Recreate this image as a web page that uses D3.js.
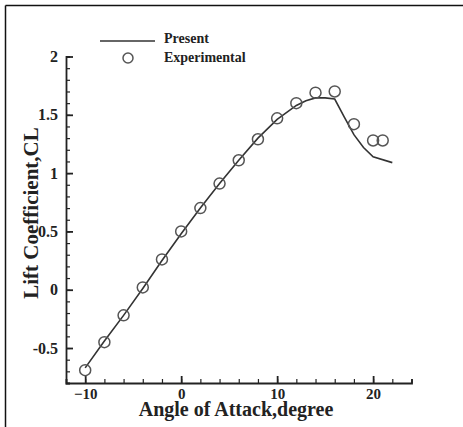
<!DOCTYPE html>
<html>
<head>
<meta charset="utf-8">
<script src="https://cdn.jsdelivr.net/npm/d3@7"></script>
<style>
  html, body { margin: 0; padding: 0; background: #fff; }
  svg { display: block; }
  text { font-family: "Liberation Serif", "DejaVu Serif", serif; font-weight: bold; fill: #222; }
</style>
</head>
<body>
<svg id="chart" width="463" height="427"></svg>
<script>
// Computed lift coefficient (solid line)
const presentAlpha = [-10, -8, -6, -4, -2, 0, 2, 4, 6, 8, 10, 12, 13, 14, 15, 16, 17, 18, 19, 20, 22];
const presentCL    = [-0.67, -0.44, -0.22, 0.01, 0.25, 0.48, 0.70, 0.91, 1.11, 1.30, 1.46, 1.58, 1.62, 1.645, 1.645, 1.635, 1.48, 1.33, 1.22, 1.14, 1.09];

// Wind-tunnel measurements (open circles)
const expAlpha = [-10, -8, -6, -4, -2, 0, 2, 4, 6, 8, 10, 12, 14, 16, 18, 20, 21];
const expCL    = [-0.69, -0.45, -0.22, 0.02, 0.26, 0.50, 0.70, 0.91, 1.11, 1.29, 1.47, 1.60, 1.69, 1.70, 1.42, 1.28, 1.28];

const xMajorTicks = [-10, 0, 10, 20];
const yMajorTicks = [-0.5, 0, 0.5, 1, 1.5, 2];
const legendLabels = ["Present", "Experimental"];

const svg = d3.select("#chart");

// outer frame (top and left edges)
svg.append("line").attr("x1", 5.5).attr("x2", 463).attr("y1", 5.5).attr("y2", 5.5)
  .attr("stroke", "#111").attr("stroke-width", 1.5);
svg.append("line").attr("x1", 5.5).attr("x2", 5.5).attr("y1", 5.5).attr("y2", 427)
  .attr("stroke", "#111").attr("stroke-width", 1.5);

const x = d3.scaleLinear().domain([-12, 24]).range([66, 411.5]);
const y = d3.scaleLinear().domain([-0.8, 2]).range([383, 56.5]);

// x axis with inward ticks
const xAxisG = svg.append("g").attr("transform", `translate(0,${y(-0.8)})`);
xAxisG.call(d3.axisBottom(x).tickValues(d3.range(-12, 24.01, 2)).tickSize(-4).tickFormat(""));
xAxisG.selectAll(".tick line").attr("stroke", "#222").attr("stroke-width", 1.2);
xAxisG.select(".domain").attr("stroke", "#222").attr("stroke-width", 1.8);
const xMajor = svg.append("g").attr("transform", `translate(0,${y(-0.8)})`)
  .call(d3.axisBottom(x).tickValues(xMajorTicks).tickSize(-7).tickPadding(5).tickFormat(d3.format("d")));
xMajor.select(".domain").remove();
xMajor.selectAll(".tick line").attr("stroke", "#222").attr("stroke-width", 1.8);
xMajor.selectAll(".tick text").attr("font-size", 15).attr("fill", "#222")
  .attr("font-family", "Liberation Serif").attr("font-weight", "bold");

// y axis with inward ticks
const yAxisG = svg.append("g").attr("transform", `translate(${x(-12)},0)`);
yAxisG.call(d3.axisLeft(y).tickValues(d3.range(-8, 20.01, 1).map(v => v / 10)).tickSize(-4).tickFormat(""));
yAxisG.selectAll(".tick line").attr("stroke", "#222").attr("stroke-width", 1.2);
yAxisG.select(".domain").attr("stroke", "#222").attr("stroke-width", 1.8);
const yMajor = svg.append("g").attr("transform", `translate(${x(-12)},0)`)
  .call(d3.axisLeft(y).tickValues(yMajorTicks).tickSize(-7).tickPadding(8).tickFormat(d => String(d)));
yMajor.select(".domain").remove();
yMajor.selectAll(".tick line").attr("stroke", "#222").attr("stroke-width", 1.8);
yMajor.selectAll(".tick text").attr("font-size", 16).attr("fill", "#222")
  .attr("font-family", "Liberation Serif").attr("font-weight", "bold").attr("x", -8);

// computed curve
const line = d3.line().x(d => x(d[0])).y(d => y(d[1]));
svg.append("path")
  .datum(presentAlpha.map((a, i) => [a, presentCL[i]]))
  .attr("d", line).attr("fill", "none").attr("stroke", "#333").attr("stroke-width", 1.6);

// measured points
svg.append("g").selectAll("circle")
  .data(expAlpha.map((a, i) => [a, expCL[i]]))
  .join("circle")
  .attr("cx", d => x(d[0])).attr("cy", d => y(d[1])).attr("r", 5.5)
  .attr("fill", "none").attr("stroke", "#555").attr("stroke-width", 1.5);

// legend
svg.append("line").attr("x1", 100).attr("x2", 155).attr("y1", 41).attr("y2", 41)
  .attr("stroke", "#333").attr("stroke-width", 1.6);
svg.append("circle").attr("cx", 128).attr("cy", 58).attr("r", 5)
  .attr("fill", "none").attr("stroke", "#555").attr("stroke-width", 1.5);
svg.append("text").attr("x", 164).attr("y", 43).attr("font-size", 14).text(legendLabels[0]);
svg.append("text").attr("x", 164).attr("y", 62).attr("font-size", 14).text(legendLabels[1]);

// axis titles
svg.append("text").attr("x", 236).attr("y", 416).attr("text-anchor", "middle")
  .attr("font-size", 20).text("Angle of Attack,degree");
svg.append("text").attr("transform", `translate(38,213) rotate(-90)`).attr("text-anchor", "middle")
  .attr("font-size", 21).text("Lift Coefficient,CL");
</script>
</body>
</html>
